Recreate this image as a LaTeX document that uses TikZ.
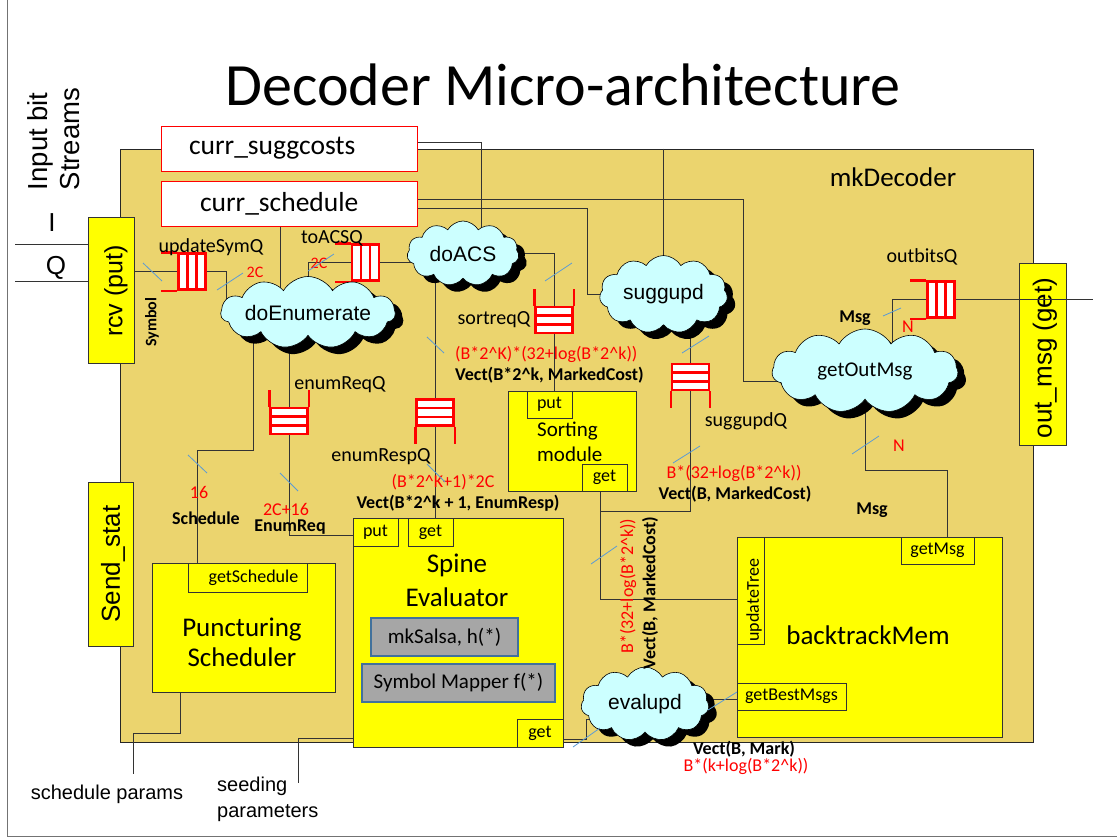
\documentclass[tikz,border=0pt]{standalone}
\usepackage{fontspec}
\setmainfont{Carlito}
\newfontfamily\arialf{Liberation Sans}
\usetikzlibrary{shapes,shadows,calc}
\definecolor{decfill}{RGB}{235,212,110}
\definecolor{yel}{RGB}{255,255,0}
\definecolor{skyc}{RGB}{204,255,255}
\definecolor{qred}{RGB}{255,0,0}
\definecolor{buscol}{RGB}{91,155,213}
\definecolor{grayfill}{RGB}{166,166,166}
\definecolor{steel}{RGB}{65,113,156}
\pgfdeclarelayer{bg}
\pgfdeclarelayer{wires}
\pgfsetlayers{bg,wires,main}
\tikzset{
  decbox/.style={draw=black!85, fill=decfill, line width=0.9pt},
  modbox/.style={draw=black!80, fill=yel, line width=0.9pt},
  port/.style={modbox, font=\fontsize{18}{21}\selectfont},
  regbox/.style={draw=qred, fill=white, line width=1pt, align=left, font=\fontsize{27.5}{32}\selectfont},
  subbox/.style={draw=steel, fill=grayfill, line width=2.4pt, font=\fontsize{21}{25}\selectfont},
  blob/.style={cloud, cloud puffs=11, cloud puff arc=120, cloud ignores aspect, draw=black, line width=0.6pt, fill=skyc,
    font=\arialf\fontsize{21}{25}\selectfont,
    drop shadow={shadow xshift=8pt, shadow yshift=-7pt, fill=black, opacity=1, draw=none}},
  fifoh/.style={draw=qred, fill=white, line width=2.4pt, minimum width=27pt, minimum height=36pt,
    path picture={\foreach \k in {1,2}{\draw[qred, line width=2.4pt]
      ($(path picture bounding box.north west)!\k/3!(path picture bounding box.north east)$) --
      ($(path picture bounding box.south west)!\k/3!(path picture bounding box.south east)$);}}},
  fifov/.style={draw=qred, fill=white, line width=2.4pt, minimum width=37pt, minimum height=26pt,
    path picture={\foreach \k in {1,2}{\draw[qred, line width=2.4pt]
      ($(path picture bounding box.north west)!\k/3!(path picture bounding box.south west)$) --
      ($(path picture bounding box.north east)!\k/3!(path picture bounding box.south east)$);}}},
  mouth/.style={draw=qred, line width=2.4pt},
  wire/.style={draw=black!80, line width=0.8pt},
  bus/.style={draw=buscol, line width=0.8pt},
  qname/.style={font=\fontsize{20}{24}\selectfont},
  wd/.style={text=qred, font=\fontsize{18}{21}\selectfont},
  ty/.style={font=\bfseries\fontsize{18}{21}\selectfont},
  bigtxt/.style={font=\fontsize{27}{32}\selectfont, align=center},
  side/.style={font=\arialf\fontsize{26}{31}\selectfont}
}

\begin{document}
\begin{tikzpicture}[x=1pt, y=-1pt, every node/.style={inner sep=0pt}]
    \useasboundingbox (0,0) rectangle (1117,839);
    \draw[black!55, line width=1pt] (7,0) -- (7,836) -- (1117,836);

    \begin{pgfonlayer}{bg}
    \node[decbox, minimum width=913, minimum height=593] (dec) at (576.5,445.5) {};
    \end{pgfonlayer}

    \node[font=\fontsize{60}{72}\selectfont, anchor=base] (title) at (563,105) {Decoder Micro-architecture};
    \node[font=\fontsize{27}{32}\selectfont] (decname) at (893,177) {mkDecoder};

    % inputs and outputs
    \node[side, rotate=90, align=left, font=\arialf\fontsize{27.5}{32}\selectfont] (instr) at (54,139) {Input bit\\Streams};
    \node[side] (inI) at (52,223) {I};
    \node[side] (inQ) at (56,268) {Q};
    \coordinate (iStart) at (15,244);
    \coordinate (qStart) at (15,281);
    \node[modbox, minimum width=46, minimum height=146] (rcv) at (111,290) {};
    \node[side, rotate=90, font=\arialf\fontsize{25}{30}\selectfont] (rcvtxt) at (116,291) {rcv (put)};
    \node[modbox, minimum width=45, minimum height=164] (stat) at (110.5,564) {};
    \node[side, rotate=90] (stattxt) at (113,564) {Send\_stat};
    \node[modbox, minimum width=47, minimum height=182] (outm) at (1042.5,354) {};
    \node[side, rotate=90] (outmtxt) at (1045,358) {out\_msg (get)};

    % registers
    \node[regbox, minimum width=256, minimum height=45, text width=200, inner xsep=28] (curSugg) at (289,148.5) {curr\_suggcosts};
    \node[regbox, minimum width=256, minimum height=45, text width=178, inner xsep=39] (curSched) at (289,203.5) {curr\_schedule};

    % modules
    \node[modbox, minimum width=183, minimum height=129] (punct) at (243.5,627.5) {};
    \node[bigtxt, font=\fontsize{27}{30}\selectfont] (puncttxt) at (242,642) {Puncturing\\Scheduler};
    \node[port, minimum width=119, minimum height=29] (getSched) at (247.5,577.5) {\hspace{12pt}getSchedule};

    \node[modbox, minimum width=210, minimum height=229] (spine) at (458,632.5) {};
    \node[bigtxt, font=\fontsize{27}{34}\selectfont] (spinetxt) at (457,580) {Spine\\Evaluator};
    \node[port, minimum width=45, minimum height=28] (spinePut) at (375.5,532) {put};
    \node[port, minimum width=45, minimum height=28] (spineGet) at (430.5,532) {get};
    \node[port, minimum width=46, minimum height=28] (spineGet2) at (540,733) {get};
    \node[subbox, minimum width=147, minimum height=38] (salsa) at (444.5,637) {mkSalsa, h(*)};
    \node[subbox, minimum width=193, minimum height=38] (mapper) at (458.5,683) {Symbol Mapper f(*)};

    \node[modbox, minimum width=128, minimum height=100] (sorter) at (572,441) {};
    \node[port, minimum width=45, minimum height=27] (sortPut) at (549.5,404.5) {put};
    \node[port, minimum width=45, minimum height=27] (sortGet) at (604.5,477.5) {get};
    \node[align=left, anchor=west, font=\fontsize{21}{25}\selectfont] (sorttxt) at (537,442) {Sorting\\module};

    \node[modbox, minimum width=265, minimum height=200] (btm) at (869.5,637) {};
    \node[font=\fontsize{27}{32}\selectfont] (btmtxt) at (868,635) {backtrackMem};
    \node[port, minimum width=73, minimum height=27] (getMsg) at (937.5,550.5) {getMsg};
    \node[port, minimum width=27, minimum height=107] (updTree) at (750.5,590.5) {};
    \node[rotate=90, font=\fontsize{18}{21}\selectfont] (updtxt) at (754,600) {updateTree};
    \node[port, minimum width=109, minimum height=27] (getBest) at (791.5,696.5) {getBestMsgs};

    % fifos
    \node[fifoh] (qUS) at (192,271.5) {};
    \node[fifoh] (qAC) at (365.5,262.5) {};
    \node[fifoh] (qOB) at (941,299.5) {};
    \node[fifov] (qSR) at (554,320) {};
    \node[fifov] (qER) at (289,421) {};
    \node[fifov] (qEP) at (435,412.5) {};
    \node[fifov] (qSU) at (690.5,377) {};
    \foreach \q in {qUS,qAC,qOB}
        \draw[mouth] (\q.north west) -- ++(-16,0) (\q.south west) -- ++(-16,0);
    \foreach \q in {qSR,qER}
        \draw[mouth] (\q.north west) -- ++(0,-17) (\q.north east) -- ++(0,-17);
    \foreach \q in {qEP,qSU}
        \draw[mouth] (\q.south west) -- ++(0,17) (\q.south east) -- ++(0,17);

    % rules
    \node[blob, minimum width=166, minimum height=72] (doEnum) at (308,312.5) {doEnumerate};
    \node[blob, minimum width=112, minimum height=65] (doACS) at (463,253.5) {doACS};
    \node[blob, minimum width=128, minimum height=78] (sugg) at (663.5,294.5) {suggupd};
    \node[blob, minimum width=186, minimum height=84, font=\fontsize{21}{25}\selectfont] (getOut) at (865,371) {getOutMsg};
    \node[blob, minimum width=128, minimum height=74] (evalupd) at (645,704) {evalupd};

    % queue names and widths
    \node[qname] (nUS) at (211,247) {updateSymQ};
    \node[qname] (nAC) at (332,238) {toACSQ};
    \node[qname] (nSR) at (494,320) {sortreqQ};
    \node[qname] (nER) at (340,385) {enumReqQ};
    \node[qname] (nEP) at (381,457) {enumRespQ};
    \node[qname] (nSU) at (746,421) {suggupdQ};
    \node[qname] (nOB) at (922,257) {outbitsQ};
    \node[wd, font=\fontsize{16}{19}\selectfont] (w1) at (255,272) {2C};
    \node[wd, font=\fontsize{16}{19}\selectfont] (w2) at (319,263) {2C};
    \node[ty, rotate=90, font=\bfseries\fontsize{16}{19}\selectfont] (t1) at (152,322) {Symbol};
    \node[wd, anchor=west] (w3) at (455,354) {(B*2\textasciicircum K)*(32+log(B*2\textasciicircum k))};
    \node[ty, anchor=west] (t3) at (455,375) {Vect(B*2\textasciicircum k, MarkedCost)};
    \node[wd] (w4) at (443,482) {(B*2\textasciicircum K+1)*2C};
    \node[ty] (t4) at (458,503) {Vect(B*2\textasciicircum k + 1, EnumResp)};
    \node[wd] (w5) at (199,492) {16};
    \node[ty] (t5) at (206,518) {Schedule};
    \node[wd] (w6) at (286,509) {2C+16};
    \node[ty] (t6) at (290,527) {EnumReq};
    \node[ty] (t7) at (855,318) {Msg};
    \node[wd] (w7) at (908,327) {N};
    \node[wd] (w8) at (899,446) {N};
    \node[ty] (t8) at (872,510) {Msg};
    \node[wd] (w9) at (734,473) {B*(32+log(B*2\textasciicircum k))};
    \node[ty] (t9) at (735,494) {Vect(B, MarkedCost)};
    \node[wd, rotate=90] (w10) at (628,586) {B*(32+log(B*2\textasciicircum k))};
    \node[ty, rotate=90] (t10) at (650,593) {Vect(B, MarkedCost)};
    \node[ty] (t11) at (744,749) {Vect(B, Mark)};
    \node[wd] (w11) at (746,766) {B*(k+log(B*2\textasciicircum k))};

    % parameters
    \node[font=\arialf\fontsize{20}{24}\selectfont] (schedp) at (107,794) {schedule params};
    \coordinate (schedEnd) at (133,774);
    \node[align=left, anchor=west, font=\arialf\fontsize{20}{26}\selectfont] (seedp) at (217,799) {seeding\\parameters};
    \coordinate (seedEnd) at (298,783);

    \begin{pgfonlayer}{wires}
    \draw[wire] (iStart) -- (iStart -| rcv.west);
    \draw[wire] (qStart) -- (qStart -| rcv.west);
    \draw[wire] (rcv.east |- qUS.west) -- (qUS.west);
    \draw[wire] (qUS.east) -- ++(20,0) |- ([yshift=13pt]doEnum.center);
    \draw[wire] (doEnum.center) |- (qAC.west);
    \draw[wire] (qAC.east) -- (qAC.east -| doACS.center);
    \draw[wire] (doACS.center) -| (qSR.north);
    \draw[wire] (qSR.south) -- (qSR.south |- sortPut.north);
    \draw[wire] (qEP.north |- doACS.center) -- (qEP.north);
    \draw[wire] (qEP.south) -- (qEP.south |- spineGet.north);
    \draw[wire] (qER.north |- doEnum.center) -- (qER.north);
    \draw[wire] (qER.south) |- ([yshift=-3pt]spinePut.west);
    \draw[wire] ([xshift=-55pt]doEnum.center) -- ++(0,137.5) -| ([xshift=-50.5pt]getSched.north);
    \draw[wire] ([xshift=-9pt]curSched.south) -- ([xshift=-9pt]curSched.south |- doEnum.center);
    \draw[wire] ([yshift=6.5pt]curSugg.east) -| ([xshift=18pt]doACS.center);
    \draw[wire] ([yshift=4.5pt]curSched.east) -- ++(326,0) |- ([yshift=-10pt]getOut.center);
    \draw[wire] ([yshift=-4.5pt]curSched.east) -- ++(170,0) |- (sugg.center);
    \draw[wire] (sugg.center |- dec.north) -- (sugg.center);
    \draw[wire] (qSU.north |- sugg.center) -- (qSU.north);
    \draw[wire] ([xshift=-4.5pt]sortGet.south) |- ([yshift=-8.5pt]updTree.west);
    \draw[wire] ([xshift=-4.5pt]sortGet.south) ++(0,20) -| (qSU.south);
    \draw[wire] ([xshift=27pt]getOut.center) |- (qOB.west);
    \draw[wire] (getOut.center) -- ++(0,99) -| ([xshift=9.5pt]getMsg.north);
    \draw[wire] ([yshift=5pt]evalupd.center) -- ([yshift=5pt]evalupd.center -| getBest.west);
    \draw[wire] ([yshift=-6pt]spineGet2.east) -- ++(23,0) |- ([yshift=-15pt]evalupd.center);
    \draw[wire] ([xshift=-63.5pt]punct.south) -- ++(0,41) -| (schedEnd);
    \draw[wire] ([yshift=-105.5pt]spine.west) -| (seedEnd);
    \end{pgfonlayer}

    \coordinate (msgEnd) at (1093,299.5);
    \draw[wire] (qOB.east) -- (msgEnd);

    % bit width marks
    \foreach \a/\b/\c/\d in {143/263/162/281, 217/290/243/273, 308/271/334/254, 545/281/572/263,
        427/337/444/353, 427/464/445/482, 188/455/207/473, 280/473/298/491, 673/463/700/446,
        682/353/709/336, 591/564/617/546, 883/316/901/308, 852/454/879/436, 708/710/737/692,
        573/747/600/728}
        \draw[bus] (\a,\b) -- (\c,\d);
\end{tikzpicture}
\end{document}
